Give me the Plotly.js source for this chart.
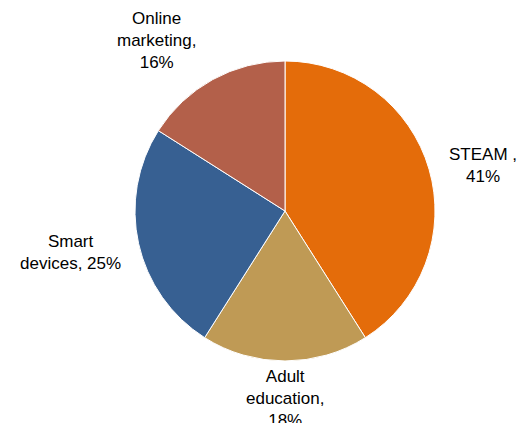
<!DOCTYPE html>
<html><head><meta charset="utf-8">
<script src="https://cdn.plot.ly/plotly-3.0.1.min.js"></script>
<style>html,body{margin:0;padding:0;background:#fff;}#chart{width:521px;height:423px;}</style>
</head><body><div id="chart"></div>
<script>
var categories = ["STEAM ", "Adult education", "Smart devices", "Online marketing"];
var values = [41, 18, 25, 16];
var colors = ["#E46C0A", "#BF9A55", "#376092", "#B3604A"];
var labelTexts = ["STEAM ,<br>41%", "Adult<br>education,<br>18%", "Smart<br>devices, 25%", "Online<br>marketing,<br>16%"];
var labelPos = [[483, 165], [285, 398], [70, 252], [156, 40]];

var W = 521, H = 423;
var annotations = labelTexts.map(function(t, i){
  return {text: t, x: labelPos[i][0]/W, y: 1 - labelPos[i][1]/H, xref: 'paper', yref: 'paper',
    xanchor: 'center', yanchor: 'middle', showarrow: false, align: 'center',
    font: {family: 'Liberation Sans, Arial, sans-serif', size: 17, color: '#000'}};
});

var trace = {
  type: 'pie', labels: categories, values: values, sort: false, direction: 'clockwise', rotation: 0,
  marker: {colors: colors, line: {color: '#fff', width: 1}},
  textinfo: 'none', hoverinfo: 'label+percent',
  domain: {x: [135/W, 435/W], y: [1 - 361/H, 1 - 61/H]}
};

Plotly.newPlot('chart', [trace], {
  width: W, height: H, margin: {l: 0, r: 0, t: 0, b: 0}, showlegend: false,
  paper_bgcolor: '#fff', annotations: annotations
}, {displayModeBar: false, staticPlot: true});
</script></body></html>
